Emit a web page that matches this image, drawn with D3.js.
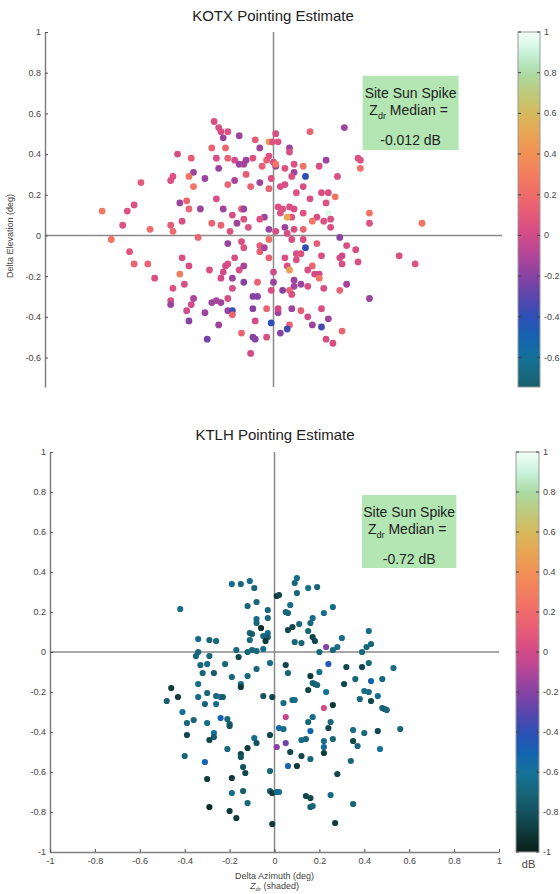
<!DOCTYPE html>
<html>
<head>
<meta charset="utf-8">
<script src="https://d3js.org/d3.v7.min.js"></script>
<style>
    body { margin: 0; background: #fff; }
    svg { font-family: "Liberation Sans", Arial, sans-serif; }
</style>
</head>
<body>
<svg id="chart" width="560" height="894"></svg>
<script>
    // ---- data ----
    // KOTX: delta azimuth (deg), delta elevation (deg), Zdr (dB)
    var kotxAz = [
        -0.58,-0.45,-0.44,-0.42,-0.36,-0.35,-0.37,-0.35,-0.30,-0.26,
        -0.24,-0.23,-0.22,-0.20,-0.15,-0.27,-0.21,-0.25,-0.20,-0.24,
        -0.20,-0.17,-0.17,-0.15,-0.13,-0.12,-0.09,-0.12,-0.10,-0.06,
        -0.08,-0.06,-0.05,-0.03,-0.02,-0.02,-0.005,0.01,-0.01,0.00,
        0.01,-0.02,-0.25,-0.41,-0.38,-0.37,-0.32,-0.40,-0.27,-0.22,
        -0.18,-0.14,-0.13,-0.16,-0.13,-0.23,-0.19,-0.11,-0.04,-0.06,
        -0.54,-0.45,-0.44,-0.33,-0.02,-0.75,-0.64,-0.61,-0.66,-0.71,
        -0.63,-0.61,-0.55,-0.52,-0.40,-0.37,-0.41,-0.39,-0.44,-0.45,
        -0.45,-0.35,-0.36,-0.38,-0.37,-0.30,-0.29,-0.28,-0.20,-0.17,
        -0.20,-0.21,-0.22,-0.23,-0.18,-0.15,-0.13,-0.14,-0.13,-0.06,
        -0.06,-0.04,-0.02,-0.02,0.00,-0.18,-0.20,-0.13,-0.07,-0.09,
        -0.07,-0.09,-0.03,-0.01,0.00,-0.23,-0.27,-0.25,-0.20,-0.18,
        -0.18,-0.24,-0.14,-0.08,-0.09,-0.08,-0.10,-0.03,-0.01,0.02,
        0.02,0.31,0.16,0.07,0.07,0.02,0.09,0.13,0.14,0.09,
        0.08,0.05,0.01,0.20,0.23,0.37,0.38,0.38,0.28,0.13,
        0.05,0.03,0.10,0.16,0.21,0.24,0.27,0.23,0.02,0.04,
        0.07,0.09,0.13,0.03,0.08,0.19,0.24,0.25,0.22,0.17,
        0.06,0.05,0.09,0.13,0.25,0.42,0.42,0.01,0.65,0.55,
        0.62,0.29,0.32,0.36,0.37,0.29,0.30,0.30,0.21,0.19,
        0.14,0.13,0.08,0.06,0.10,0.12,0.05,0.10,0.06,0.07,
        0.17,0.15,0.18,0.20,0.20,0.09,0.09,0.12,0.15,0.22,
        0.32,0.29,0.04,0.07,0.08,0.42,0.08,0.12,0.21,0.15,
        0.24,0.17,0.21,0.07,0.06,0.30,0.23,0.26,0.03
    ];
    var kotxEl = [
        0.26,0.27,0.29,0.40,0.38,0.31,0.29,0.24,0.28,0.56,
        0.53,0.51,0.48,0.51,0.49,0.43,0.43,0.38,0.38,0.33,
        0.25,0.27,0.37,0.35,0.35,0.37,0.38,0.30,0.24,0.26,
        0.47,0.43,0.34,0.37,0.39,0.46,0.46,0.50,0.28,0.36,
        0.34,0.23,0.18,0.16,0.17,0.13,0.13,0.07,0.06,0.13,
        0.10,0.13,0.13,0.06,0.08,0.05,0.02,0.04,0.09,0.08,
        0.03,0.05,0.02,-0.01,0.03,0.12,0.12,0.15,0.05,-0.02,
        -0.08,-0.14,-0.14,-0.21,-0.11,-0.15,-0.19,-0.24,-0.26,-0.32,
        -0.34,-0.31,-0.34,-0.37,-0.42,-0.38,-0.51,-0.17,-0.04,-0.11,
        -0.14,-0.15,-0.18,-0.21,-0.21,-0.17,-0.15,-0.03,-0.06,-0.05,
        -0.08,-0.06,-0.02,-0.11,-0.18,-0.26,-0.31,-0.23,-0.23,-0.30,
        -0.30,-0.36,-0.36,-0.27,-0.23,-0.33,-0.33,-0.32,-0.37,-0.37,
        -0.39,-0.44,-0.48,-0.42,-0.50,-0.51,-0.58,-0.50,-0.43,-0.38,
        -0.36,0.53,0.51,0.43,0.41,0.46,0.35,0.34,0.29,0.31,
        0.29,0.33,0.35,0.34,0.37,0.38,0.37,0.33,0.29,0.24,
        0.25,0.24,0.21,0.18,0.21,0.21,0.19,0.16,0.14,0.13,
        0.14,0.13,0.11,0.11,0.09,0.09,0.11,0.08,0.07,0.07,
        0.09,0.04,0.03,0.03,0.04,0.11,0.06,0.02,0.06,-0.10,
        -0.14,-0.01,-0.05,-0.07,-0.13,-0.11,-0.10,-0.14,-0.10,-0.04,
        -0.06,-0.02,-0.02,0.01,-0.09,-0.09,-0.11,-0.12,-0.15,-0.17,
        -0.15,-0.17,-0.19,-0.19,-0.21,-0.22,-0.25,-0.24,-0.25,-0.26,
        -0.24,-0.27,-0.27,-0.27,-0.29,-0.31,-0.36,-0.37,-0.36,-0.40,
        -0.41,-0.44,-0.45,-0.44,-0.46,-0.47,-0.51,-0.53,-0.48
    ];
    var kotxZdr = [
        0.1,0.05,0.05,0.02,0.12,-0.15,0.25,0.25,-0.15,0.03,
        0.03,0.02,-0.15,0.05,-0.15,0.15,0.18,0.03,0.15,-0.15,
        0.15,-0.12,0.02,-0.15,-0.12,-0.15,0.05,0.12,0.15,-0.15,
        0.12,-0.15,0.12,0.12,0.05,0.45,0.05,0.03,0.05,0.03,
        -0.15,0.15,0.03,-0.15,0.15,0.15,-0.15,0.03,0.15,-0.15,
        0.03,0.15,-0.15,-0.15,0.05,0.15,0.05,0.05,-0.15,0.05,
        0.2,0.12,0.2,0.15,-0.15,0.25,0.05,0.05,0.05,0.25,
        0.08,0.15,0.15,0.03,0.03,0.03,0.3,0.03,0.05,0.03,
        -0.15,-0.12,0.0,0.0,-0.2,-0.15,-0.25,0.03,-0.15,0.03,
        0.03,0.0,0.0,0.0,-0.15,0.03,-0.12,0.03,0.05,0.12,
        0.12,-0.12,0.22,0.15,0.0,0.03,0.03,-0.2,0.15,-0.2,
        -0.2,-0.2,0.15,0.03,-0.15,-0.15,-0.15,-0.12,-0.15,-0.35,
        0.15,-0.15,0.15,0.0,-0.2,-0.2,0.0,0.03,-0.4,-0.15,
        0.0,-0.15,0.15,-0.15,0.03,0.05,0.05,0.25,-0.4,-0.15,
        0.03,0.05,0.25,0.03,-0.15,0.05,0.05,0.22,0.03,0.03,
        0.03,0.03,0.05,0.03,0.03,0.03,0.25,0.05,0.05,0.05,
        0.03,0.03,0.05,0.05,0.05,0.03,0.95,0.03,0.05,0.25,
        0.5,-0.15,0.03,0.15,0.03,0.25,0.05,0.03,0.25,0.03,
        0.05,-0.2,0.03,0.03,0.03,0.03,0.0,0.03,0.03,0.12,
        -0.4,0.03,0.03,0.03,0.03,0.05,0.03,0.03,0.03,0.45,
        0.15,0.03,0.0,0.0,0.25,-0.15,-0.15,-0.15,0.03,0.03,
        -0.15,0.15,-0.2,0.15,0.03,-0.15,-0.15,0.12,0.03,0.0,
        -0.15,-0.15,-0.35,0.15,-0.35,0.15,0.03,0.03,-0.2
    ];

    // KTLH
    var ktlhAz = [
        -0.42,-0.19,-0.15,-0.11,-0.09,-0.12,-0.08,-0.03,-0.08,-0.08,
        -0.03,-0.06,-0.11,-0.10,-0.05,-0.03,-0.03,-0.04,-0.11,-0.34,
        -0.29,-0.26,-0.17,-0.12,-0.10,-0.08,-0.05,-0.34,-0.35,-0.29,
        -0.16,0.01,0.02,0.10,0.09,0.15,0.19,0.10,0.07,0.05,
        0.06,0.22,0.26,0.17,0.16,0.11,0.08,0.06,0.15,0.17,
        0.18,0.09,0.12,0.30,0.28,0.26,0.23,0.20,0.42,0.43,
        0.41,0.39,-0.33,-0.30,-0.32,-0.27,-0.22,-0.19,-0.15,-0.15,
        -0.12,-0.08,-0.02,-0.34,-0.30,-0.34,-0.31,-0.26,-0.24,-0.23,
        -0.26,-0.46,-0.48,-0.43,-0.41,-0.39,-0.36,-0.39,-0.30,-0.24,
        -0.21,-0.20,-0.20,-0.27,-0.29,-0.27,-0.40,-0.31,-0.21,-0.15,
        -0.15,-0.12,-0.09,-0.08,-0.14,-0.13,-0.30,-0.19,-0.19,-0.14,
        -0.12,-0.29,-0.20,-0.17,-0.01,-0.02,-0.01,-0.02,0.01,-0.02,
        -0.01,-0.05,0.02,0.01,0.24,0.05,0.32,0.39,0.42,0.53,
        0.06,0.16,0.20,0.17,0.18,0.19,0.15,0.23,0.31,0.36,
        0.43,0.48,0.40,0.42,0.46,0.38,0.43,0.48,0.49,0.50,
        0.04,0.08,0.09,0.26,0.22,0.05,0.17,0.15,0.25,0.24,
        0.16,0.04,0.35,0.40,0.46,0.56,0.12,0.14,0.22,0.26,
        0.35,0.37,0.22,0.22,0.47,0.07,0.05,0.12,0.16,0.34,
        0.06,0.10,0.28,0.02,0.14,0.16,0.16,0.17,0.25,0.35,
        0.27
    ];
    var ktlhEl = [
        0.215,0.34,0.34,0.355,0.32,0.23,0.25,0.21,0.165,0.145,
        0.17,0.12,0.095,0.09,0.08,0.095,0.075,0.055,0.06,0.065,
        0.06,0.055,0.01,0.0,0.01,0.005,0.015,0.0,-0.02,-0.02,
        -0.025,0.28,0.285,0.37,0.345,0.32,0.325,0.295,0.235,0.20,
        0.195,0.195,0.225,0.17,0.145,0.14,0.125,0.11,0.105,0.075,
        0.055,0.05,0.045,0.07,0.025,0.01,0.025,0.0,0.105,0.04,
        0.025,0.0,-0.065,-0.06,-0.105,-0.105,-0.06,-0.125,-0.16,-0.175,
        -0.12,-0.085,-0.055,-0.16,-0.205,-0.225,-0.26,-0.22,-0.225,-0.225,
        -0.26,-0.18,-0.245,-0.225,-0.30,-0.355,-0.34,-0.415,-0.355,-0.33,
        -0.335,-0.36,-0.37,-0.405,-0.44,-0.425,-0.52,-0.55,-0.485,-0.51,
        -0.525,-0.48,-0.43,-0.455,-0.575,-0.605,-0.635,-0.63,-0.705,-0.695,
        -0.755,-0.775,-0.795,-0.83,-0.86,-0.695,-0.705,-0.595,-0.70,-0.415,
        -0.225,-0.22,-0.38,-0.475,-0.06,-0.065,-0.075,-0.075,-0.055,-0.08,
        -0.105,-0.12,-0.10,-0.155,-0.16,-0.165,-0.19,-0.20,-0.16,-0.135,
        -0.145,-0.135,-0.195,-0.20,-0.22,-0.235,-0.245,-0.28,-0.285,-0.29,
        -0.255,-0.24,-0.24,-0.265,-0.28,-0.325,-0.325,-0.35,-0.35,-0.38,
        -0.395,-0.385,-0.39,-0.405,-0.395,-0.385,-0.44,-0.435,-0.445,-0.435,
        -0.445,-0.47,-0.475,-0.505,-0.485,-0.50,-0.455,-0.52,-0.535,-0.545,
        -0.57,-0.57,-0.61,-0.70,-0.72,-0.73,-0.775,-0.77,-0.715,-0.76,
        -0.855
    ];
    var ktlhZdr = [
        -0.65,-0.65,-0.7,-0.65,-0.7,-0.7,-0.7,-0.7,-0.65,-0.7,
        -0.7,-0.95,-0.7,-0.75,-0.7,-0.65,-0.75,-0.9,-0.7,-0.65,
        -0.7,-0.7,-0.7,-0.7,-0.7,-0.7,-0.65,-0.7,-0.7,-0.7,
        -0.85,-0.9,-0.85,-0.65,-0.7,-0.65,-0.7,-0.7,-0.65,-0.7,
        -0.7,-0.65,-0.65,-0.65,-0.7,-0.7,-0.85,-0.85,-0.7,-0.85,
        -0.85,-0.7,-0.7,-0.65,-0.65,-0.7,-0.2,-0.7,-0.65,-0.7,
        -0.7,-0.7,-0.7,-0.65,-0.7,-0.75,-0.7,-0.7,-0.65,-0.9,
        -0.7,-0.7,-0.65,-0.65,-0.7,-0.65,-0.7,-0.7,-0.6,-0.75,
        -0.65,-0.9,-0.75,-0.9,-0.6,-0.7,-0.7,-0.85,-0.65,-0.5,
        -0.7,-0.75,-0.8,-0.6,-0.85,-0.75,-0.7,-0.5,-0.7,-0.85,
        -0.8,-0.9,-0.65,-0.8,-0.8,-0.85,-0.9,-0.9,-0.65,-0.75,
        -0.7,-0.95,-0.9,-0.9,-0.9,-0.75,-0.9,-0.7,-0.65,-0.85,
        -0.85,-0.8,-0.55,-0.2,-0.45,-0.85,-0.85,-0.85,-0.7,-0.65,
        -0.7,-0.9,-0.65,-0.7,-0.75,-0.7,-0.85,-0.6,-0.85,-0.7,
        -0.5,-0.7,-0.65,-0.65,-0.65,-0.7,-0.85,-0.7,-0.75,-0.7,
        -0.65,-0.7,-0.65,-0.9,0.0,-0.05,-0.65,-0.7,-0.7,-0.85,
        -0.5,-0.65,-0.65,-0.7,-0.85,-0.7,-0.65,-0.7,-0.65,-0.7,
        -0.85,-0.7,-0.55,-0.9,-0.6,-0.85,-0.25,-0.85,-0.7,-0.7,
        -0.5,-0.9,-0.85,-0.65,-0.85,-0.85,-0.75,-0.7,-0.65,-0.7,
        -0.9
    ];

    var axisTicks = [-1, -0.8, -0.6, -0.4, -0.2, 0, 0.2, 0.4, 0.6, 0.8, 1];
    var topYTicks = [-0.6, -0.4, -0.2, 0, 0.2, 0.4, 0.6, 0.8, 1];
    var medianText = ['-0.012 dB', '-0.72 dB'];

    // colour map (Zdr, dB)
    var cmapVals = [-1,-0.9,-0.8,-0.7,-0.6,-0.5,-0.4,-0.3,-0.2,-0.1,0,0.1,0.2,0.3,0.4,0.5,0.6,0.7,0.8,0.9,1];
    var cmapHex = ['#07201a','#0e3a3a','#145260','#176679','#14729a','#1462b0','#2d4fb5','#5b45ad',
                   '#8742a3','#b14698','#d24a88','#e55a79','#ef6b6a','#f27d5e','#f19055','#e8a552',
                   '#d6b95c','#bfca7c','#aadba4','#c9f3dd','#f5fff9'];
    var cmap = d3.scaleLinear().domain(cmapVals).range(cmapHex).clamp(true);

    var svg = d3.select('#chart');
    var fmt = function(d) { return String(Math.round(d * 10) / 10); };

    function styleAxis(ax) {
        ax.select('.domain').attr('stroke', '#7f7f7f').attr('stroke-width', 1.5);
        ax.selectAll('.tick line').attr('stroke', '#555');
        ax.selectAll('.tick text').attr('fill', '#444').attr('font-size', 9)
            .attr('font-family', '"Liberation Sans", Arial, sans-serif');
    }

    function drawPanel(p) {
        var x = d3.scaleLinear().domain([-1, 1]).range(p.xRange);
        var y = d3.scaleLinear().domain(p.yDomain).range(p.yRange);
        var g = svg.append('g');

        g.append('text')
            .attr('x', p.titleX).attr('y', p.titleY)
            .attr('text-anchor', 'middle')
            .attr('font-size', 15).attr('fill', '#222')
            .text(p.title);

        // zero lines
        g.append('line')
            .attr('x1', x(-1)).attr('x2', x(1))
            .attr('y1', y(0)).attr('y2', y(0))
            .attr('stroke', '#8a8a8a').attr('stroke-width', 1.5);
        g.append('line')
            .attr('x1', x(0)).attr('x2', x(0))
            .attr('y1', p.yRange[0]).attr('y2', p.yRange[1])
            .attr('stroke', '#8a8a8a').attr('stroke-width', 1.5);

        var yAx = g.append('g')
            .attr('transform', 'translate(' + x(-1) + ',0)')
            .call(d3.axisLeft(y).tickValues(p.yTicks).tickFormat(fmt)
                .tickSizeInner(-3).tickSizeOuter(0).tickPadding(4));
        styleAxis(yAx);

        if (p.xAxis) {
            var xAx = g.append('g')
                .attr('transform', 'translate(0,' + y(-1) + ')')
                .call(d3.axisBottom(x).tickValues(axisTicks).tickFormat(fmt)
                    .tickSizeInner(-3).tickSizeOuter(0).tickPadding(6));
            styleAxis(xAx);
            g.append('text')
                .attr('x', x(0)).attr('y', y(-1) + 27)
                .attr('text-anchor', 'middle').attr('font-size', 9).attr('fill', '#444')
                .text('Delta Azimuth (deg)');
            var lab2 = g.append('text')
                .attr('x', x(0)).attr('y', y(-1) + 37)
                .attr('text-anchor', 'middle').attr('font-size', 9).attr('fill', '#444');
            lab2.append('tspan').attr('font-style', 'italic').text('Z');
            lab2.append('tspan').attr('font-size', 6).attr('dy', 2).text('dr');
            lab2.append('tspan').attr('dy', -2).text(' (shaded)');
        }

        if (p.yLabel) {
            g.append('text')
                .attr('transform', 'translate(13,' + p.yLabelY + ') rotate(-90)')
                .attr('text-anchor', 'middle').attr('font-size', 9).attr('fill', '#444')
                .text(p.yLabel);
        }

        // sun spike points
        g.selectAll('circle.pt')
            .data(d3.range(p.az.length))
            .join('circle')
            .classed('pt', true)
            .attr('cx', function(i) { return x(p.az[i]); })
            .attr('cy', function(i) { return y(p.el[i]); })
            .attr('r', p.r)
            .attr('fill', function(i) { return cmap(p.z[i]); });

        // median annotation
        var bx0 = x(0.39), bx1 = x(0.81), by0 = y(0.785), by1 = y(0.42);
        g.append('rect')
            .attr('x', bx0).attr('y', by0)
            .attr('width', bx1 - bx0).attr('height', by1 - by0)
            .attr('fill', '#b3e6b3');
        var cx = (bx0 + bx1) / 2;
        g.append('text').attr('x', cx).attr('y', by0 + 22)
            .attr('text-anchor', 'middle').attr('font-size', 14).attr('fill', '#222')
            .text('Site Sun Spike');
        var t2 = g.append('text').attr('x', cx - 2).attr('y', by0 + 39)
            .attr('text-anchor', 'middle').attr('font-size', 14).attr('fill', '#222');
        t2.append('tspan').text('Z');
        t2.append('tspan').attr('font-size', 9).attr('dy', 4).text('dr');
        t2.append('tspan').attr('dy', -4).text(' Median =');
        g.append('text').attr('x', cx).attr('y', by0 + 69)
            .attr('text-anchor', 'middle').attr('font-size', 14).attr('fill', '#222')
            .text(p.median);

        // colour bar
        var cb = p.cbar;
        var cy = d3.scaleLinear().domain(cb.domain).range(cb.range);
        var gid = 'grad' + p.id;
        var grad = svg.append('defs').append('linearGradient')
            .attr('id', gid).attr('x1', 0).attr('y1', 1).attr('x2', 0).attr('y2', 0);
        grad.selectAll('stop')
            .data(d3.range(0, 1.0001, 0.025))
            .join('stop')
            .attr('offset', function(t) { return t; })
            .attr('stop-color', function(t) { return cmap(cb.domain[0] + t * (cb.domain[1] - cb.domain[0])); });
        g.append('rect')
            .attr('x', cb.x).attr('y', cb.range[1])
            .attr('width', cb.w).attr('height', cb.range[0] - cb.range[1])
            .attr('fill', 'url(#' + gid + ')')
            .attr('stroke', '#9a9a9a').attr('stroke-width', 1);
        var cbTicks = axisTicks.filter(function(v) { return v >= cb.domain[0] && v <= cb.domain[1]; });
        g.selectAll('line.cbl').data(cbTicks).join('line').classed('cbl', true)
            .attr('x1', cb.x).attr('x2', cb.x + 3)
            .attr('y1', cy).attr('y2', cy)
            .attr('stroke', '#444');
        g.selectAll('line.cbr').data(cbTicks).join('line').classed('cbr', true)
            .attr('x1', cb.x + cb.w - 3).attr('x2', cb.x + cb.w)
            .attr('y1', cy).attr('y2', cy)
            .attr('stroke', '#444');
        g.selectAll('text.cbt').data(cbTicks).join('text').classed('cbt', true)
            .attr('x', cb.x + cb.w + 4)
            .attr('y', function(v) { return cy(v) + 3; })
            .attr('font-size', 9).attr('fill', '#444')
            .text(fmt);
        if (cb.unit) {
            g.append('text').attr('x', cb.x + cb.w / 2 + 1).attr('y', cb.range[0] + 16)
                .attr('text-anchor', 'middle').attr('font-size', 11).attr('fill', '#444')
                .text(cb.unit);
        }
    }

    drawPanel({
        id: 'top', title: 'KOTX Pointing Estimate', titleX: 273, titleY: 21,
        xRange: [45, 502], yDomain: [-0.745, 1], yRange: [387, 32], yTicks: topYTicks,
        az: kotxAz, el: kotxEl, z: kotxZdr, median: medianText[0], r: 3.4,
        xAxis: false, yLabel: 'Delta Elevation (deg)', yLabelY: 236,
        cbar: { x: 518, w: 22, domain: [-0.745, 1], range: [387, 32] }
    });

    drawPanel({
        id: 'bot', title: 'KTLH Pointing Estimate', titleX: 275, titleY: 440,
        xRange: [50, 499], yDomain: [-1, 1], yRange: [852, 452], yTicks: axisTicks,
        az: ktlhAz, el: ktlhEl, z: ktlhZdr, median: medianText[1], r: 3.1,
        xAxis: true, yLabel: null,
        cbar: { x: 516, w: 23, domain: [-1, 1], range: [852, 452], unit: 'dB' }
    });
</script>
</body>
</html>
